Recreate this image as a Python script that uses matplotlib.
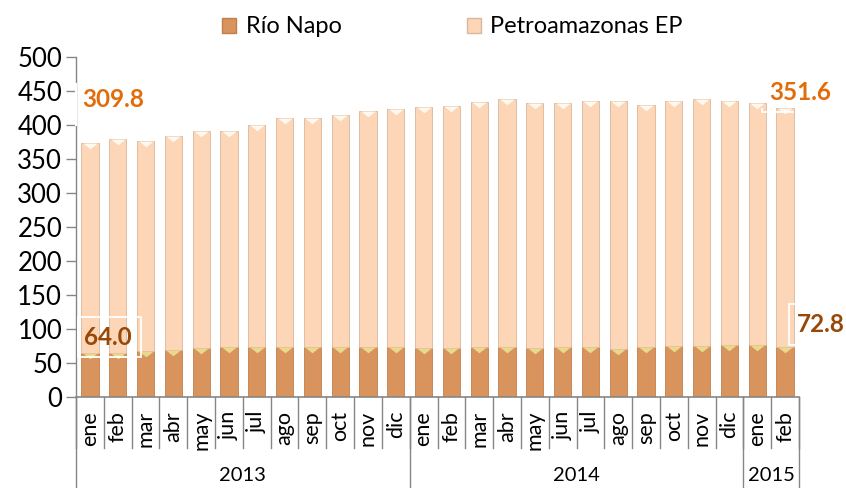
import matplotlib
matplotlib.use('Agg')
import matplotlib.pyplot as plt
from matplotlib.patches import Patch, Rectangle
from matplotlib.path import Path
import numpy as np

plt.rcParams['font.family'] = ['Lato', 'DejaVu Sans']

# datos (miles de barriles diarios, aprox.)
meses = ['ene', 'feb', 'mar', 'abr', 'may', 'jun', 'jul', 'ago', 'sep', 'oct', 'nov', 'dic',
         'ene', 'feb', 'mar', 'abr', 'may', 'jun', 'jul', 'ago', 'sep', 'oct', 'nov', 'dic',
         'ene', 'feb']
anios = ['2013', '2014', '2015']
meses_por_anio = [12, 12, 2]
rio_napo = [64.0, 65, 67, 69, 72, 73, 74, 74, 74, 73, 73, 73,
            72, 72, 73, 73, 72, 73, 73, 71, 74, 75, 75, 77,
            76, 72.8]
petroamazonas = [309.8, 315, 309, 315, 319, 318, 326, 336, 336, 341, 347, 351,
                 355, 356, 361, 365, 360, 360, 363, 364, 356, 360, 363, 359,
                 356, 351.6]

c_napo = '#D9935C'
c_petro = '#FCD6B7'
gris = '#868686'

fig = plt.figure(figsize=(8.46, 4.88), dpi=100)
ax = fig.add_axes([76/846, 91/488, 723/846, 340/488])

x = np.arange(len(meses))
ancho = 0.62
ax.bar(x, rio_napo, ancho, color=c_napo, edgecolor='#C07F4C', linewidth=0.6, zorder=2)
ax.bar(x, petroamazonas, ancho, bottom=rio_napo, color=c_petro, edgecolor='#D9B79C',
       linewidth=0.6, zorder=2)

# pequeño triángulo de "bisel" en la parte superior de cada tramo
tri = Path([(-1, 0), (1, 0), (0, -0.8), (-1, 0)],
           [Path.MOVETO, Path.LINETO, Path.LINETO, Path.CLOSEPOLY])
total = np.array(rio_napo) + np.array(petroamazonas)
ax.scatter(x, total, marker=tri, s=110, color='#FFF8EE', linewidths=0, zorder=3)
ax.scatter(x, rio_napo, marker=tri, s=110, color='#E9D98E', linewidths=0, zorder=3)

ax.set_ylim(0, 500)
ax.set_xlim(-0.5, len(meses) - 0.5)
ax.set_yticks(range(0, 501, 50))
ax.tick_params(axis='y', labelsize=18.5, length=7, width=1, color=gris, pad=3)
for s in ['top', 'right']:
    ax.spines[s].set_visible(False)
ax.spines['left'].set_color(gris)
ax.spines['bottom'].set_color(gris)
ax.spines['left'].set_linewidth(1)
ax.spines['bottom'].set_linewidth(1.2)

ax.set_xticks(x)
ax.set_xticklabels(meses, rotation=90, fontsize=15.5, va='top')
ax.tick_params(axis='x', length=0, pad=10)

# separadores de categorías
for b in np.arange(len(meses) + 1) - 0.5:
    ax.plot([b, b], [0, -0.15], transform=ax.get_xaxis_transform(), color=gris,
            lw=1, clip_on=False)
inicio = 0
for anio, n in zip(anios, meses_por_anio):
    ax.plot([inicio - 0.5, inicio - 0.5], [0, -0.3], transform=ax.get_xaxis_transform(),
            color=gris, lw=1, clip_on=False)
    ax.text(inicio + (n - 1) / 2, -0.23, anio, transform=ax.get_xaxis_transform(),
            ha='center', va='center', fontsize=14.5)
    inicio += n
ax.plot([inicio - 0.5, inicio - 0.5], [0, -0.3], transform=ax.get_xaxis_transform(),
        color=gris, lw=1, clip_on=False)

# etiquetas de datos
naranja = '#E36C0A'
cafe = '#984807'
ax.text(0.83, 437, '309.8', color=naranja, fontsize=17.5, fontweight='bold',
        ha='center', va='center', zorder=5)
ax.plot([-0.5, -0.5], [400, 460], color='white', lw=1.5, zorder=6, clip_on=False)
ax.text(0.65, 88, '64.0', color=cafe, fontsize=17.5, fontweight='bold',
        ha='center', va='center', zorder=5)
ax.add_patch(Rectangle((-0.43, 59), 2.27, 59, fill=False, ec='white', lw=1.3, zorder=4))
ax.text(25.54, 448, '351.6', color=naranja, fontsize=17.5, fontweight='bold',
        ha='center', va='center', zorder=5, clip_on=False)
ax.plot([24.18, 24.18, 25.3], [424, 419, 419], color='white', lw=1.3, zorder=4,
        clip_on=False)
ax.text(26.3, 106, '72.8', color=cafe, fontsize=17.5, fontweight='bold',
        ha='center', va='center', zorder=5, clip_on=False)
ax.plot([25.4, 25.15, 25.15, 25.4], [137, 137, 76, 76], color='white', lw=1.3,
        zorder=4, clip_on=False)

handles = [Patch(facecolor=c_napo, edgecolor='#C07F4C', label='Río Napo'),
           Patch(facecolor=c_petro, edgecolor='#D9B79C', label='Petroamazonas EP')]
fig.legend(handles=handles, loc='upper center', bbox_to_anchor=(0.535, 1.01), ncol=2,
           frameon=False, fontsize=17, handlelength=0.6, handleheight=0.6,
           handletextpad=0.4, columnspacing=5.3)

fig.savefig('out.png', dpi=100)
